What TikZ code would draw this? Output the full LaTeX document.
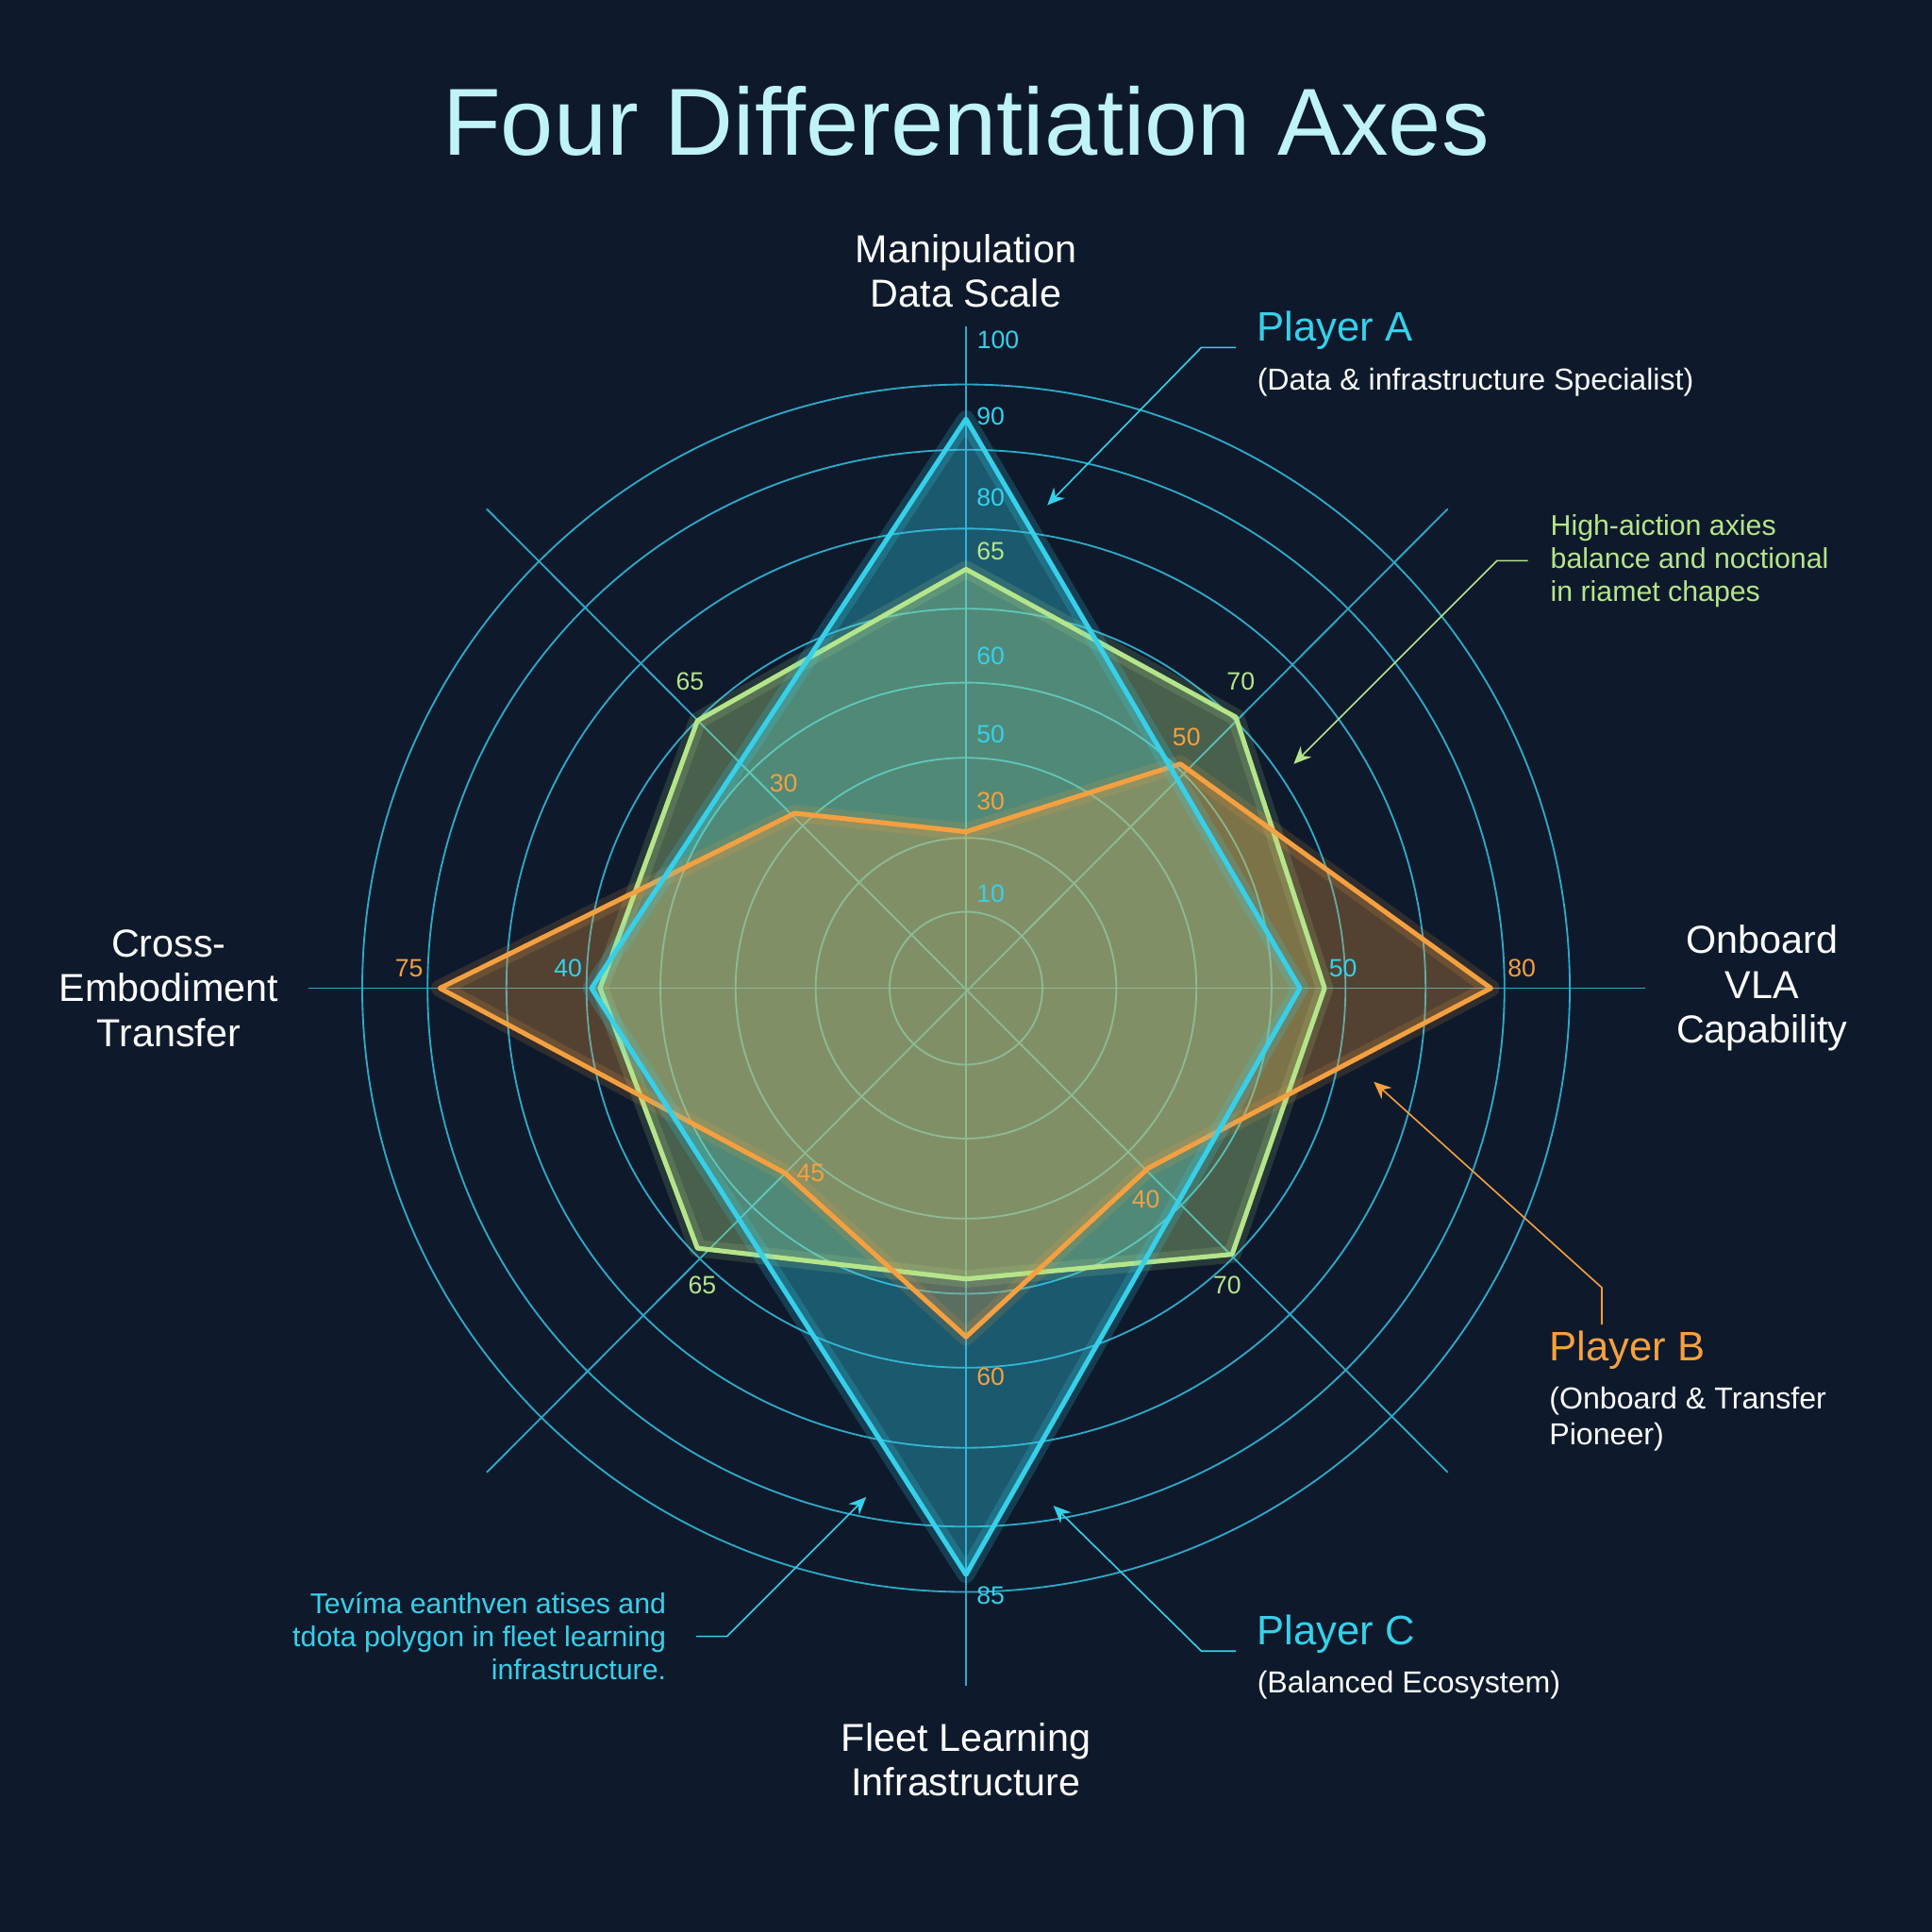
\documentclass[tikz,border=0pt]{standalone}
\usepackage{fontspec}
\setmainfont{Liberation Sans}
\usetikzlibrary{arrows.meta}
\definecolor{bg}{HTML}{0E1A2C}
\definecolor{cy}{HTML}{36D0EA}
\definecolor{gr}{HTML}{B5E58A}
\definecolor{orn}{HTML}{F5A040}
\definecolor{ttl}{HTML}{BFF3F7}
\definecolor{ring}{HTML}{2FA9C8}
\tikzset{
 num/.style={font=\fontsize{5.8}{6}\selectfont},
 axl/.style={text=white,align=center,font=\fontsize{9}{10.3}\selectfont},
 pl/.style={anchor=west,font=\fontsize{9.5}{10}\selectfont},
 sub/.style={anchor=north west,text=white,align=left,font=\fontsize{7}{8.3}\selectfont},
 note/.style={align=left,font=\fontsize{6.6}{7.6}\selectfont},
 lead/.style={line width=0.35pt,-{Stealth[length=4pt,width=3.5pt]}},
 poly/.style={line width=1.1pt,line join=round}
}
\begin{document}
\begin{tikzpicture}[x=0.1mm,y=-0.1mm]
\fill[bg] (0,0) rectangle (1568,1568);
\useasboundingbox (0,0) rectangle (1568,1568);
\coordinate (O) at (784,802);
\node[text=ttl,font=\fontsize{22}{24}\selectfont] (title) at (784,98) {Four Differentiation Axes};
% rings
\foreach \r in {62,122,187,248,308,373,437,490}
  \draw[ring,line width=0.4pt] (O) circle (\r);
\draw[ring,line width=0.4pt] (784,265) -- (784,1368);
\draw[ring,line width=0.4pt] (250,802) -- (1335,802);
\draw[ring,line width=0.4pt] (395,413) -- (1175,1195);
\draw[ring,line width=0.4pt] (1175,413) -- (395,1195);
% polygons
\fill[cy,opacity=0.35] (784,340) -- (1055,802) -- (784,1278) -- (480,802) -- cycle;
\fill[gr,opacity=0.35] (784,462) -- (1003,582) -- (1075,802) -- (1000,1018) -- (784,1038) -- (566,1013) -- (487,802) -- (566,585) -- cycle;
\fill[orn,opacity=0.3] (784,675) -- (958,620) -- (1210,802) -- (932,948) -- (784,1085) -- (637,952) -- (357,802) -- (645,660) -- cycle;
\foreach \c in {cy,gr,orn}{}
\draw[gr,poly,line width=4pt,opacity=0.15] (784,462) -- (1003,582) -- (1075,802) -- (1000,1018) -- (784,1038) -- (566,1013) -- (487,802) -- (566,585) -- cycle;
\draw[gr,poly] (784,462) -- (1003,582) -- (1075,802) -- (1000,1018) -- (784,1038) -- (566,1013) -- (487,802) -- (566,585) -- cycle;
\draw[orn,poly,line width=4pt,opacity=0.15] (784,675) -- (958,620) -- (1210,802) -- (932,948) -- (784,1085) -- (637,952) -- (357,802) -- (645,660) -- cycle;
\draw[orn,poly] (784,675) -- (958,620) -- (1210,802) -- (932,948) -- (784,1085) -- (637,952) -- (357,802) -- (645,660) -- cycle;
\draw[cy,poly,line width=4pt,opacity=0.2] (784,340) -- (1055,802) -- (784,1278) -- (480,802) -- cycle;
\draw[cy,poly] (784,340) -- (1055,802) -- (784,1278) -- (480,802) -- cycle;
% numbers
\foreach \x/\y/\t/\c in {810/276/100/cy,804/338/90/cy,804/404/80/cy,804/447/65/gr,804/532/60/cy,804/596/50/cy,804/650/30/orn,804/725/10/cy,
 1007/553/70/gr,963/598/50/orn,1090/786/50/cy,1235/786/80/orn,930/973/40/orn,996/1043/70/gr,804/1117/60/orn,804/1295/85/cy,
 570/1043/65/gr,658/952/45/orn,461/786/40/cy,332/786/75/orn,636/636/30/orn,560/553/65/gr}
  \node[num,text=\c] at (\x,\y) {\t};
% axis labels
\node[axl] (ax1) at (784,220) {Manipulation\\Data Scale};
\node[axl] (ax2) at (1430,802) {Onboard\\VLA\\Capability};
\node[axl] (ax3) at (137,802) {Cross-\\Embodiment\\Transfer};
\node[axl] (ax4) at (784,1428) {Fleet Learning\\Infrastructure};
% Player A
\node[pl,text=cy] (pa) at (1008,268) {Player A};
\node[sub] (pas) at (1008,286) {(Data \& infrastructure Specialist)};
\coordinate (a1) at (1003,282); \coordinate (a2) at (975,282); \coordinate (a3) at (850,410);
\draw[cy,lead] (a1) -- (a2) -- (a3);
% green note
\node[note,text=gr,anchor=west] (gn) at (1246,455) {High-aiction axies\\balance and noctional\\in riamet chapes};
\coordinate (g1) at (1240,455); \coordinate (g2) at (1215,455); \coordinate (g3) at (1050,620);
\draw[gr,lead] (g1) -- (g2) -- (g3);
% Player B
\node[pl,text=orn] (pb) at (1245,1096) {Player B};
\node[sub] (pbs) at (1245,1113) {(Onboard \& Transfer\\Pioneer)};
\coordinate (b1) at (1300,1075); \coordinate (b2) at (1300,1045); \coordinate (b3) at (1115,878);
\draw[orn,lead] (b1) -- (b2) -- (b3);
% Player C
\node[pl,text=cy] (pc) at (1008,1326) {Player C};
\node[sub] (pcs) at (1008,1344) {(Balanced Ecosystem)};
\coordinate (c1) at (1003,1340); \coordinate (c2) at (975,1340); \coordinate (c3) at (855,1222);
\draw[cy,lead] (c1) -- (c2) -- (c3);
% cyan note
\node[note,text=cy,align=right,anchor=east] (cn) at (553,1328) {Tevíma eanthven atises and\\tdota polygon in fleet learning\\infrastructure.};
\coordinate (n1) at (565,1328); \coordinate (n2) at (590,1328); \coordinate (n3) at (703,1215);
\draw[cy,lead] (n1) -- (n2) -- (n3);
\end{tikzpicture}
\end{document}
